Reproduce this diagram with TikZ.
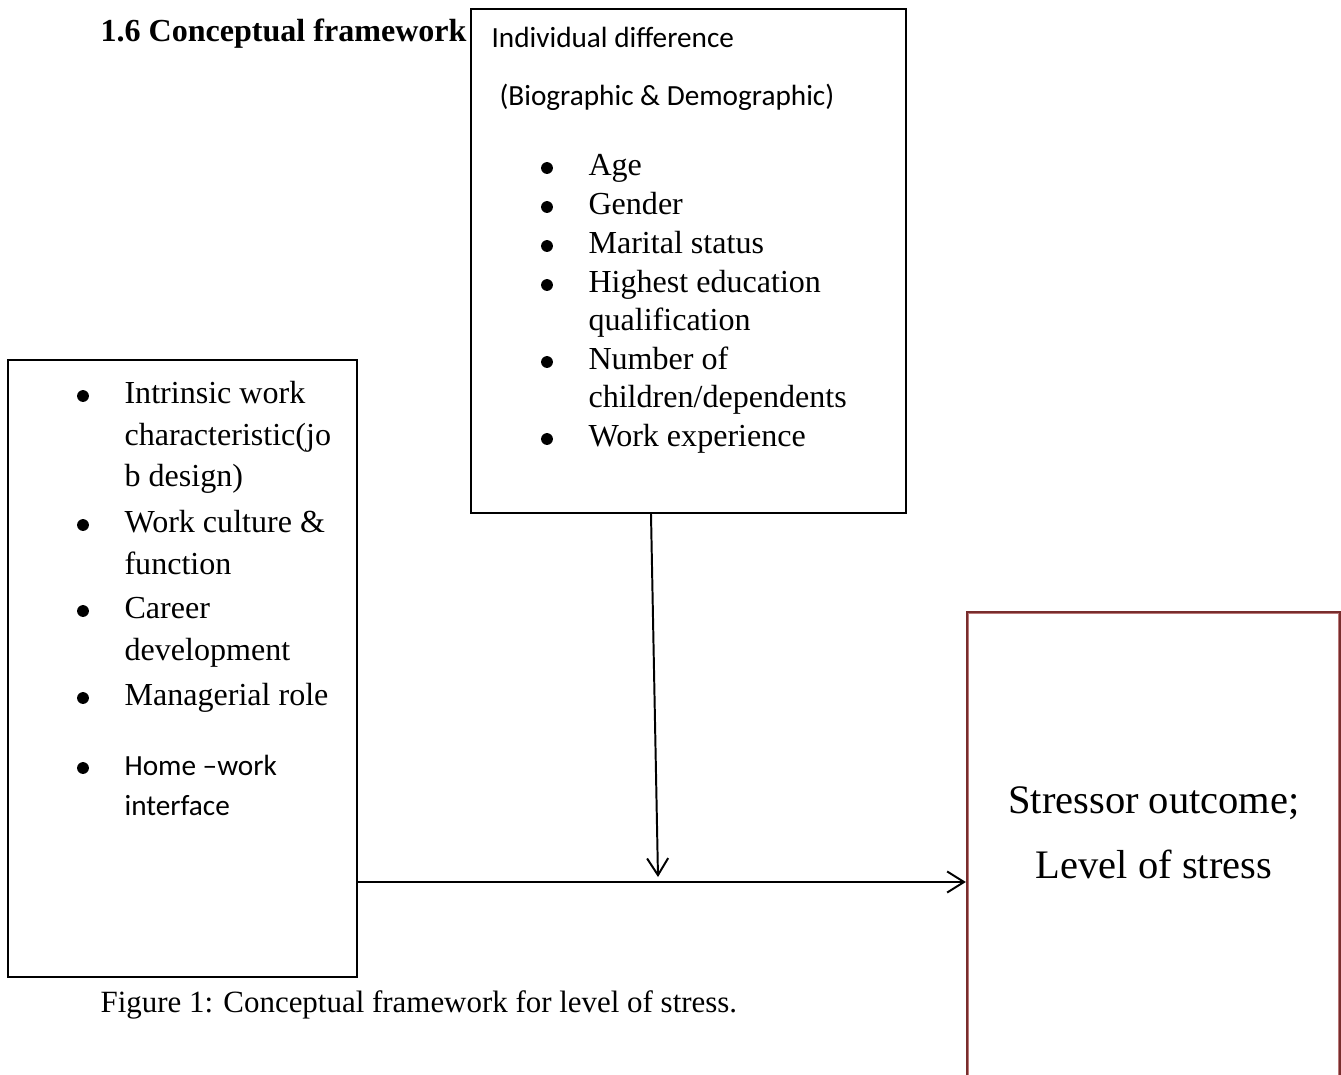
\documentclass[tikz,border=0pt]{standalone}
\usepackage{fontspec}
\setmainfont{Liberation Serif}
\newfontfamily\calibrifont{Carlito}
\newfontfamily\cambriafont{Liberation Serif}
\usetikzlibrary{arrows.meta,fit}
\definecolor{dred}{RGB}{120,45,45}
\definecolor{lred}{RGB}{185,120,120}
\newcommand{\bulat}[1]{\fill ([shift={(-41,-7)}]#1.base west) circle[radius=2.1pt];}
\begin{document}
\begin{tikzpicture}[x=0.0125cm,y=-0.0125cm,
  box/.style={draw=black,line width=0.7pt,inner sep=0pt},
  txt/.style={anchor=base west,inner sep=0pt,font=\fontsize{11.4}{13}\selectfont},
  ctxt/.style={anchor=base west,inner sep=0pt,font=\calibrifont\fontsize{10.4}{12}\selectfont},
  rtxt/.style={anchor=base,inner sep=0pt,font=\cambriafont\fontsize{14.4}{17}\selectfont},
  arr/.style={line width=0.7pt,-{Straight Barb[length=6pt,width=7.5pt,line width=0.7pt]}}]
\useasboundingbox (0,0) rectangle (1341,1075);
\fill[white] (0,0) rectangle (1341,1075);

% boxes
\node[box,fit={(471,9) (906,513)}] (top) {};
\node[box,fit={(8,360) (357,977)}] (left) {};
\node[draw=dred,line width=0.8pt,inner sep=0pt,fit={(967,612) (1340,1100)}] (right) {};
\draw[lred,line width=0.4pt] ([xshift=2.5*0.0125cm,yshift=-2.5*0.0125cm]right.north west) rectangle ([xshift=-2.5*0.0125cm]right.south east);

% title
\node[txt,font=\bfseries\fontsize{11.4}{13}\selectfont] (title) at (100,41) {1.6 Conceptual framework};

% top box texts
\node[ctxt] (t1) at (491,47) {Individual difference};
\node[ctxt] (t2) at (499,105) {(Biographic \& Demographic)};
\node[txt] (a1) at (588,175) {Age};
\node[txt] (a2) at (588,214) {Gender};
\node[txt] (a3) at (588,253) {Marital status};
\node[txt] (a4) at (588,292) {Highest education};
\node[txt] (a4b) at (588,330) {qualification};
\node[txt] (a5) at (588,369) {Number of};
\node[txt] (a5b) at (588,407) {children/dependents};
\node[txt] (a6) at (588,446) {Work experience};

% left box texts
\node[txt] (b1) at (124,403) {Intrinsic work};
\node[txt] (b1b) at (124,445) {characteristic(jo};
\node[txt] (b1c) at (124,486) {b design)};
\node[txt] (b2) at (124,532) {Work culture \&};
\node[txt] (b2b) at (124,574) {function};
\node[txt] (b3) at (124,618) {Career};
\node[txt] (b3b) at (124,660) {development};
\node[txt] (b4) at (124,705) {Managerial role};
\node[ctxt] (b5) at (124,775) {Home –work};
\node[ctxt] (b5b) at (124,815) {interface};

% bullets
\bulat{a1}\bulat{a2}\bulat{a3}\bulat{a4}\bulat{a5}\bulat{a6}
\bulat{b1}\bulat{b2}\bulat{b3}\bulat{b4}\bulat{b5}

% right box texts
\node[rtxt] (r1) at (1154,813) {Stressor outcome;};
\node[rtxt] (r2) at (1154,878) {Level of stress};

% caption
\node[txt,font=\fontsize{11}{13}\selectfont] (cap) at (100,1012) {Figure 1: Conceptual framework for level of stress.};

% connectors
\coordinate (vtip) at (658,877);
\draw[arr] (651,0 |- top.south) -- (vtip);
\draw[arr] (left.east |- 0,882) -- (right.west |- 0,882);
\end{tikzpicture}
\end{document}
